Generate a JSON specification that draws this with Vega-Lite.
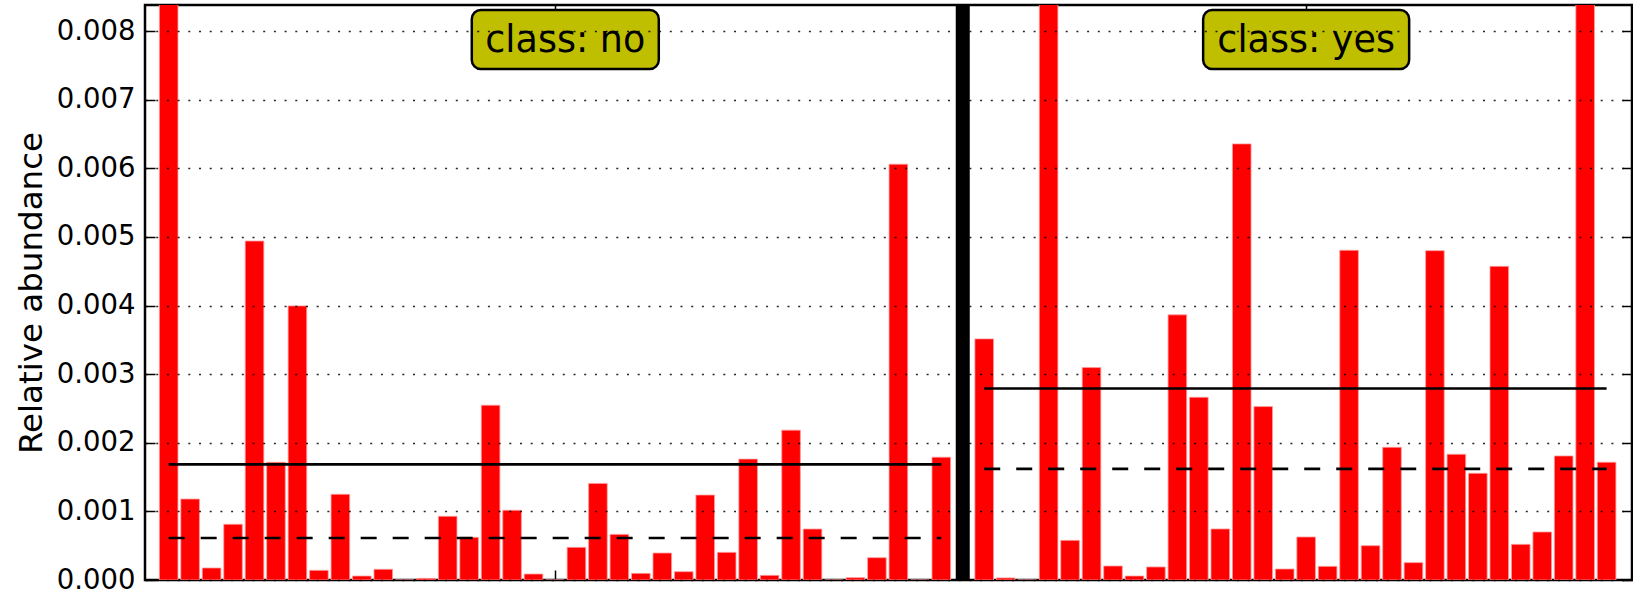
{
  "$schema": "https://vega.github.io/schema/vega-lite/v6.json",
  "width": 1487,
  "height": 575,
  "autosize": {"type": "none"},
  "padding": {"left": 145, "top": 5, "right": 1, "bottom": 13},
  "background": "white",
  "config": {
    "view": {"stroke": "black", "strokeWidth": 2.5},
    "font": "DejaVu Sans",
    "text": {"font": "DejaVu Sans"}
  },
  "datasets": {
    "bars": [
      {"i": 0, "v": 0.0095, "group": "no"},
      {"i": 1, "v": 0.00118, "group": "no"},
      {"i": 2, "v": 0.000175, "group": "no"},
      {"i": 3, "v": 0.000812, "group": "no"},
      {"i": 4, "v": 0.00494, "group": "no"},
      {"i": 5, "v": 0.001716, "group": "no"},
      {"i": 6, "v": 0.003995, "group": "no"},
      {"i": 7, "v": 0.000141, "group": "no"},
      {"i": 8, "v": 0.001249, "group": "no"},
      {"i": 9, "v": 0.000058, "group": "no"},
      {"i": 10, "v": 0.000156, "group": "no"},
      {"i": 11, "v": 0, "group": "no"},
      {"i": 12, "v": 0.000024, "group": "no"},
      {"i": 13, "v": 0.000928, "group": "no"},
      {"i": 14, "v": 0.000622, "group": "no"},
      {"i": 15, "v": 0.002547, "group": "no"},
      {"i": 16, "v": 0.001016, "group": "no"},
      {"i": 17, "v": 0.000087, "group": "no"},
      {"i": 18, "v": 0, "group": "no"},
      {"i": 19, "v": 0.000476, "group": "no"},
      {"i": 20, "v": 0.001408, "group": "no"},
      {"i": 21, "v": 0.000665, "group": "no"},
      {"i": 22, "v": 0.000097, "group": "no"},
      {"i": 23, "v": 0.000393, "group": "no"},
      {"i": 24, "v": 0.000121, "group": "no"},
      {"i": 25, "v": 0.001238, "group": "no"},
      {"i": 26, "v": 0.000403, "group": "no"},
      {"i": 27, "v": 0.001762, "group": "no"},
      {"i": 28, "v": 0.000068, "group": "no"},
      {"i": 29, "v": 0.002184, "group": "no"},
      {"i": 30, "v": 0.000743, "group": "no"},
      {"i": 31, "v": 0, "group": "no"},
      {"i": 32, "v": 0.000034, "group": "no"},
      {"i": 33, "v": 0.000325, "group": "no"},
      {"i": 34, "v": 0.00606, "group": "no"},
      {"i": 35, "v": 0, "group": "no"},
      {"i": 36, "v": 0.00179, "group": "no"},
      {"i": 38, "v": 0.003514, "group": "yes"},
      {"i": 39, "v": 0.00003, "group": "yes"},
      {"i": 40, "v": 0, "group": "yes"},
      {"i": 41, "v": 0.0095, "group": "yes"},
      {"i": 42, "v": 0.000578, "group": "yes"},
      {"i": 43, "v": 0.003096, "group": "yes"},
      {"i": 44, "v": 0.000204, "group": "yes"},
      {"i": 45, "v": 0.000058, "group": "yes"},
      {"i": 46, "v": 0.00019, "group": "yes"},
      {"i": 47, "v": 0.003864, "group": "yes"},
      {"i": 48, "v": 0.002663, "group": "yes"},
      {"i": 49, "v": 0.000744, "group": "yes"},
      {"i": 50, "v": 0.006356, "group": "yes"},
      {"i": 51, "v": 0.002527, "group": "yes"},
      {"i": 52, "v": 0.00016, "group": "yes"},
      {"i": 53, "v": 0.000627, "group": "yes"},
      {"i": 54, "v": 0.000199, "group": "yes"},
      {"i": 55, "v": 0.004805, "group": "yes"},
      {"i": 56, "v": 0.0005, "group": "yes"},
      {"i": 57, "v": 0.001934, "group": "yes"},
      {"i": 58, "v": 0.000253, "group": "yes"},
      {"i": 59, "v": 0.0048, "group": "yes"},
      {"i": 60, "v": 0.001832, "group": "yes"},
      {"i": 61, "v": 0.001555, "group": "yes"},
      {"i": 62, "v": 0.004571, "group": "yes"},
      {"i": 63, "v": 0.00052, "group": "yes"},
      {"i": 64, "v": 0.0007, "group": "yes"},
      {"i": 65, "v": 0.001808, "group": "yes"},
      {"i": 66, "v": 0.0095, "group": "yes"},
      {"i": 67, "v": 0.001716, "group": "yes"}
    ],
    "stats": [
      {"group": "no", "stat": "mean", "start": 0, "end": 36, "v": 0.001685},
      {"group": "no", "stat": "median", "start": 0, "end": 36, "v": 0.000612},
      {"group": "yes", "stat": "mean", "start": 38, "end": 67, "v": 0.00279},
      {"group": "yes", "stat": "median", "start": 38, "end": 67, "v": 0.00162}
    ],
    "separator": [{"i": 37}],
    "labels": [
      {"label": "class: no", "x": 18.48, "y": 0.007877},
      {"label": "class: yes", "x": 53.0, "y": 0.007877}
    ]
  },
  "resolve": {"axis": {"x": "independent", "y": "independent"}},
  "layer": [
    {
      "data": {"name": "bars"},
      "mark": {"type": "bar", "width": 18.6, "fill": "#FF0000", "stroke": "#ff9a9a", "strokeWidth": 0.8, "clip": true},
      "encoding": {
        "x": {
          "field": "i", "type": "quantitative",
          "scale": {"domain": [-0.87, 67.95], "nice": false, "zero": false},
          "axis": {"orient": "bottom", "values": [18, 53], "labels": false, "title": null, "domain": false, "grid": false, "ticks": true, "tickSize": -10, "tickColor": "black", "tickWidth": 1.5}
        },
        "y": {
          "field": "v", "type": "quantitative",
          "scale": {"domain": [0, 0.00838], "nice": false, "zero": true},
          "axis": {
            "orient": "left",
            "title": "Relative abundance",
            "titleFontSize": 32.5,
            "titleFontWeight": "normal",
            "titleColor": "black",
            "titleFont": "DejaVu Sans",
            "titlePadding": 8,
            "values": [0, 0.001, 0.002, 0.003, 0.004, 0.005, 0.006, 0.007, 0.008],
            "format": ".3f",
            "labelFontSize": 27.5,
            "labelColor": "black",
            "labelFont": "DejaVu Sans",
            "labelPadding": 20,
            "tickSize": -10,
            "tickColor": "black",
            "tickWidth": 1.5,
            "domain": false,
            "grid": true,
            "gridColor": "black",
            "gridWidth": 1.6,
            "gridDash": [2, 8.7],
            "gridOpacity": 0.85,
            "zindex": 1
          }
        }
      }
    },
    {
      "data": {"name": "stats"},
      "mark": {"type": "rule", "color": "black", "strokeWidth": 2.6},
      "encoding": {
        "x": {
          "field": "start", "type": "quantitative",
          "scale": {"domain": [-0.87, 67.95], "nice": false, "zero": false},
          "axis": {"orient": "top", "values": [18, 53], "labels": false, "title": null, "domain": false, "grid": false, "tickSize": -10, "tickColor": "black", "tickWidth": 1.5}
        },
        "x2": {"field": "end"},
        "y": {
          "field": "v", "type": "quantitative",
          "scale": {"domain": [0, 0.00838], "nice": false, "zero": true},
          "axis": {"orient": "right", "values": [0, 0.001, 0.002, 0.003, 0.004, 0.005, 0.006, 0.007, 0.008], "labels": false, "title": null, "domain": false, "grid": false, "tickSize": -10, "tickColor": "black", "tickWidth": 1.5}
        },
        "strokeDash": {
          "field": "stat", "type": "nominal",
          "scale": {"domain": ["mean", "median"], "range": [[1, 0], [16, 16]]},
          "legend": null
        }
      }
    },
    {
      "data": {"name": "separator"},
      "mark": {"type": "rule", "color": "black", "strokeWidth": 14},
      "encoding": {
        "x": {"field": "i", "type": "quantitative", "axis": null}
      }
    },
    {
      "data": {"name": "labels"},
      "transform": [{"filter": "datum.label === 'class: no'"}],
      "mark": {"type": "rect", "width": 187, "height": 59, "cornerRadius": 9, "fill": "#BFBF00", "stroke": "black", "strokeWidth": 2.5, "zindex": 2},
      "encoding": {
        "x": {"field": "x", "type": "quantitative", "axis": null},
        "y": {"field": "y", "type": "quantitative", "axis": null}
      }
    },
    {
      "data": {"name": "labels"},
      "transform": [{"filter": "datum.label === 'class: yes'"}],
      "mark": {"type": "rect", "width": 206, "height": 59, "cornerRadius": 9, "fill": "#BFBF00", "stroke": "black", "strokeWidth": 2.5, "zindex": 2},
      "encoding": {
        "x": {"field": "x", "type": "quantitative", "axis": null},
        "y": {"field": "y", "type": "quantitative", "axis": null}
      }
    },
    {
      "data": {"name": "labels"},
      "mark": {"type": "text", "fontSize": 36.5, "font": "DejaVu Sans", "color": "black", "align": "center", "baseline": "alphabetic", "dy": 12.5, "zindex": 3},
      "encoding": {
        "x": {"field": "x", "type": "quantitative", "axis": null},
        "y": {"field": "y", "type": "quantitative", "axis": null},
        "text": {"field": "label"}
      }
    }
  ]
}
